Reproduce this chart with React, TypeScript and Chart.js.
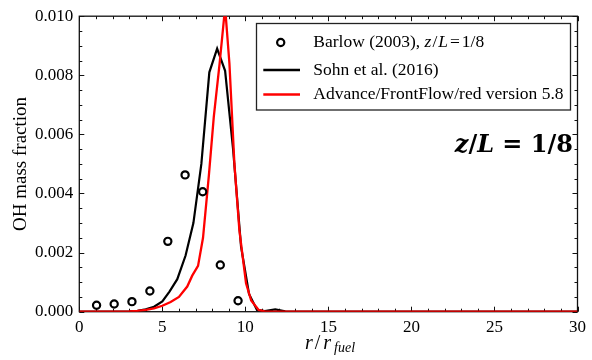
import React, { useEffect, useRef } from "react";
import { Chart, registerables } from "chart.js";

Chart.register(...registerables);

// Barlow (2003) experimental points
const rBarlow = [1.04, 2.1, 3.17, 4.25, 5.33, 6.37, 7.43, 8.49, 9.56];
const ohBarlow = [0.00022, 0.00026, 0.00034, 0.0007, 0.00238, 0.00463, 0.00406, 0.00158, 0.00037];

// Sohn et al. (2016)
const rSohn = [0, 1, 2, 3, 3.5, 4.0, 4.5, 5.0, 5.43, 5.9, 6.4, 6.87, 7.35, 7.83, 8.3, 8.78, 9.26, 9.74, 10.22, 10.7, 11.17, 11.8, 12.4, 13, 20, 30];
const ohSohn = [0, 0, 0, 0.00001, 0.00003, 0.00008, 0.00017, 0.00035, 0.00068, 0.0011, 0.0019, 0.003, 0.005, 0.0081, 0.0089, 0.00815, 0.0055, 0.0022, 0.0006, 0.00006, 0.00002, 0.00008, 0.00001, 0, 0, 0];

// Advance/FrontFlow/red version 5.8
const rAFF = [0, 1, 2, 3, 3.5, 4.0, 4.5, 5.0, 5.5, 6.0, 6.5, 6.8, 7.15, 7.45, 7.8, 8.1, 8.45, 8.78, 9.04, 9.34, 9.64, 10.04, 10.35, 10.8, 11.2, 20, 30];
const ohAFF = [0, 0, 0, 0.00001, 0.00003, 0.00006, 0.00011, 0.0002, 0.00033, 0.0005, 0.00085, 0.00122, 0.00155, 0.0025, 0.0046, 0.0066, 0.0084, 0.0103, 0.0084, 0.005, 0.00275, 0.00096, 0.00038, 0.00006, 0, 0, 0];

const legendLabels = ["Barlow (2003), ", "Sohn et al. (2016)", "Advance/FrontFlow/red version 5.8"];

const xMin = 0, xMax = 30, xStep = 5, xMinor = 1;
const yMin = 0, yMax = 0.01, yStep = 0.002, yMinor = 0.0005;

const SERIF = '"Liberation Serif", "Times New Roman", serif';

const zip = (xs: number[], ys: number[]) => xs.map((x, i) => ({ x, y: ys[i] }));

const framePlugin = {
  id: "frame",
  beforeDatasetsDraw(chart: any) {
    const { ctx, chartArea, scales } = chart;
    const { left, right, top, bottom } = chartArea;
    const x = scales.x, y = scales.y;
    ctx.save();
    ctx.strokeStyle = "#111";
    ctx.lineWidth = 1.3;
    ctx.strokeRect(left, top, right - left, bottom - top);
    ctx.lineWidth = 1;
    ctx.beginPath();
    const nx = Math.round((xMax - xMin) / xMinor);
    for (let i = 0; i <= nx; i++) {
      const v = xMin + i * xMinor;
      const px = Math.round(x.getPixelForValue(v)) + 0.5;
      const len = Math.abs(v % xStep) < 1e-9 ? 5 : 3;
      ctx.moveTo(px, bottom);
      ctx.lineTo(px, bottom - len);
      ctx.moveTo(px, top);
      ctx.lineTo(px, top + len);
    }
    const ny = Math.round((yMax - yMin) / yMinor);
    for (let i = 0; i <= ny; i++) {
      const v = yMin + i * yMinor;
      const py = Math.round(y.getPixelForValue(v)) + 0.5;
      const len = i % Math.round(yStep / yMinor) === 0 ? 5 : 3;
      ctx.moveTo(left, py);
      ctx.lineTo(left + len, py);
      ctx.moveTo(right, py);
      ctx.lineTo(right - len, py);
    }
    ctx.stroke();
    ctx.restore();
  },
  afterDraw(chart: any) {
    const { ctx, chartArea } = chart;
    const { top, bottom } = chartArea;
    ctx.save();

    // Y axis title
    ctx.save();
    ctx.translate(21.5, (top + bottom) / 2);
    ctx.rotate(-Math.PI / 2);
    ctx.font = `19px ${SERIF}`;
    ctx.fillStyle = "#000";
    ctx.textAlign = "center";
    ctx.textBaseline = "middle";
    ctx.fillText("OH mass fraction", 0, 0);
    ctx.restore();

    // X axis title r/r_fuel
    ctx.fillStyle = "#000";
    ctx.textBaseline = "alphabetic";
    ctx.textAlign = "left";
    let cx = 305;
    const by = 349;
    ctx.font = `italic 20px ${SERIF}`;
    ctx.fillText("r", cx, by);
    cx += ctx.measureText("r").width + 2;
    ctx.font = `20px ${SERIF}`;
    ctx.fillText("/", cx, by);
    cx += ctx.measureText("/").width + 3;
    ctx.font = `italic 20px ${SERIF}`;
    ctx.fillText("r", cx, by);
    cx += ctx.measureText("r").width + 3;
    ctx.font = `italic 14px ${SERIF}`;
    ctx.fillText("fuel", cx, by + 3);

    // Legend
    const lx0 = 256.5, ly0 = 23.5, lw = 314, lh = 86.5;
    ctx.fillStyle = "#fff";
    ctx.fillRect(lx0, ly0, lw, lh);
    ctx.strokeStyle = "#222";
    ctx.lineWidth = 1.3;
    ctx.strokeRect(lx0, ly0, lw, lh);
    const rows = [42.5, 70, 94.5];
    ctx.beginPath();
    ctx.arc(280.7, rows[0], 3.6, 0, Math.PI * 2);
    ctx.strokeStyle = "#000";
    ctx.lineWidth = 2.2;
    ctx.stroke();
    ctx.lineWidth = 2.4;
    ctx.beginPath();
    ctx.moveTo(263.3, rows[1]);
    ctx.lineTo(300, rows[1]);
    ctx.strokeStyle = "#000";
    ctx.stroke();
    ctx.beginPath();
    ctx.moveTo(263.3, rows[2]);
    ctx.lineTo(300, rows[2]);
    ctx.strokeStyle = "#ff0000";
    ctx.stroke();

    ctx.fillStyle = "#000";
    ctx.textBaseline = "middle";
    const tx = 313.3;
    const LF = 17.5;
    ctx.font = `${LF}px ${SERIF}`;
    ctx.fillText(legendLabels[0], tx, rows[0]);
    let mx = tx + ctx.measureText(legendLabels[0]).width;
    const parts: [string, boolean, number][] = [["z", true, 1], ["/", false, 1], ["L", true, 2], ["=", false, 2], ["1", false, 0], ["/", false, 0], ["8", false, 0]];
    for (const [s, it, gap] of parts) {
      ctx.font = `${it ? "italic " : ""}${LF}px ${SERIF}`;
      ctx.fillText(s, mx, rows[0]);
      mx += ctx.measureText(s).width + gap;
    }
    ctx.font = `${LF}px ${SERIF}`;
    ctx.fillText(legendLabels[1], tx, rows[1]);
    ctx.fillText(legendLabels[2], tx, rows[2]);

    // Bold annotation z/L = 1/8
    const BOLDF = '"DejaVu Serif", serif';
    const ann: [string, boolean][] = [["z", true], ["/", false], ["L", true], [" = ", false], ["1/8", false]];
    ctx.textBaseline = "alphabetic";
    let total = 0;
    for (const [s, it] of ann) {
      ctx.font = `${it ? "italic " : ""}bold 24px ${BOLDF}`;
      total += ctx.measureText(s).width;
    }
    let ax = 573 - total;
    for (const [s, it] of ann) {
      ctx.font = `${it ? "italic " : ""}bold 24px ${BOLDF}`;
      ctx.fillText(s, ax, 152);
      ax += ctx.measureText(s).width;
    }
    ctx.restore();
  },
};

export default function App() {
  const ref = useRef<HTMLCanvasElement | null>(null);
  useEffect(() => {
    if (!ref.current) return;
    const chart = new Chart(ref.current, {
      type: "scatter",
      data: {
        datasets: [
          {
            label: "Advance/FrontFlow/red version 5.8",
            data: zip(rAFF, ohAFF),
            showLine: true,
            borderColor: "#ff0000",
            borderWidth: 2.3,
            pointRadius: 0,
            tension: 0,
            order: 1,
          },
          {
            label: "Sohn et al. (2016)",
            data: zip(rSohn, ohSohn),
            showLine: true,
            borderColor: "#000",
            borderWidth: 2.2,
            pointRadius: 0,
            tension: 0,
            order: 2,
          },
          {
            label: "Barlow (2003)",
            data: zip(rBarlow, ohBarlow),
            showLine: false,
            borderColor: "#000",
            backgroundColor: "rgba(0,0,0,0)",
            borderWidth: 2.2,
            pointRadius: 3.6,
            order: 0,
          },
        ],
      },
      options: {
        animation: false,
        responsive: true,
        maintainAspectRatio: false,
        layout: { padding: { top: 15, right: 12.7, left: 0, bottom: 0 } },
        plugins: { legend: { display: false }, tooltip: { enabled: false } },
        scales: {
          x: {
            type: "linear",
            min: xMin,
            max: xMax,
            grid: { display: false, drawTicks: false },
            border: { display: false },
            ticks: { stepSize: xStep, color: "#000", padding: 6, font: { family: SERIF, size: 17 } },
            afterFit: (s: any) => { s.height = 48.3; },
          },
          y: {
            type: "linear",
            min: yMin,
            max: yMax,
            grid: { display: false, drawTicks: false },
            border: { display: false },
            ticks: {
              stepSize: yStep,
              color: "#000",
              padding: 6,
              font: { family: SERIF, size: 17 },
              callback: (v: any) => Number(v).toFixed(3),
            },
            afterFit: (s: any) => { s.width = 79.3; },
          },
        },
      },
      plugins: [framePlugin],
    });
    return () => chart.destroy();
  }, []);
  return (
    <div style={{ position: "fixed", left: 0, top: 0, width: 592, height: 360, background: "#fff" }}>
      <canvas ref={ref} />
    </div>
  );
}
